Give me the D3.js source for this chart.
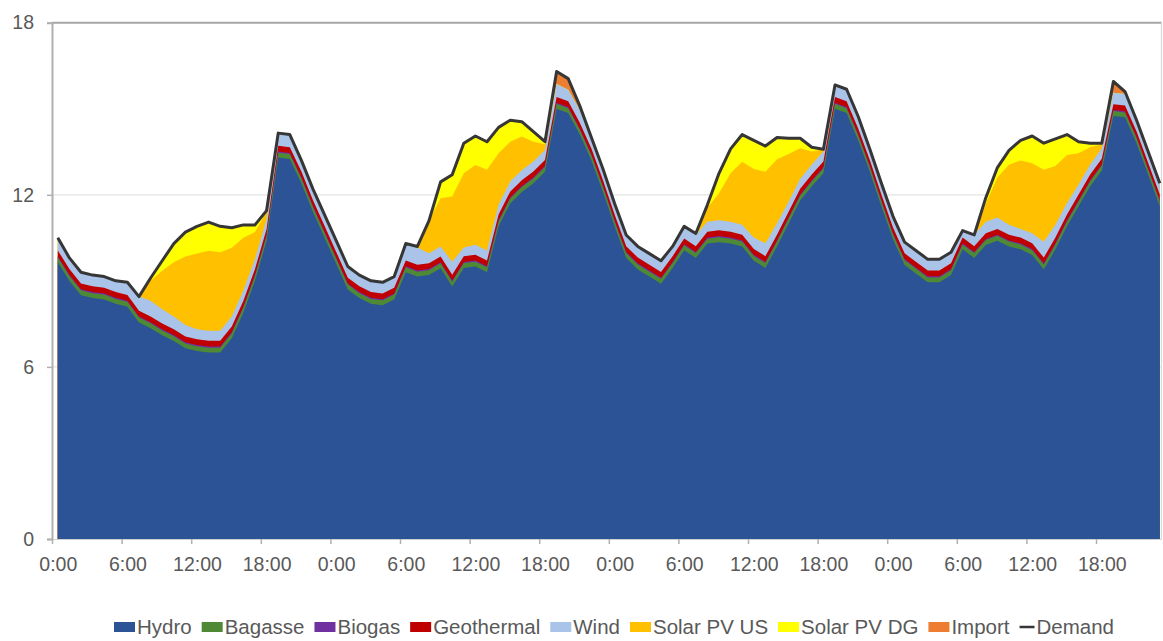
<!DOCTYPE html>
<html><head><meta charset="utf-8">
<script src="https://cdn.jsdelivr.net/npm/d3@7"></script>
<style>
body{margin:0;background:#fff;}
text{font-family:"Liberation Sans",Arial,sans-serif;fill:#595959;}
</style>
</head><body>
<svg id="c" width="1163" height="641"></svg>
<script>
// ---- data (hourly, 4 days) ----
const demand=[
10.5,9.8,9.3,9.2,9.15,9.0,8.95,8.45,9.1,9.7,10.3,10.7,10.9,11.05,10.9,10.85,10.95,10.95,11.45,14.15,14.1,13.2,12.2,11.3,
10.4,9.5,9.2,9.0,8.95,9.15,10.3,10.2,11.1,12.45,12.7,13.8,14.05,13.85,14.35,14.6,14.55,14.2,13.85,16.3,16.05,15.1,14.0,12.9,
11.7,10.6,10.2,9.95,9.7,10.2,10.9,10.65,11.65,12.75,13.6,14.1,13.9,13.7,14.0,13.97,13.97,13.66,13.59,15.83,15.68,14.73,13.6,12.4,
11.25,10.35,10.05,9.75,9.75,10.0,10.75,10.6,11.9,12.95,13.55,13.9,14.05,13.8,13.95,14.1,13.85,13.8,13.8,15.95,15.6,14.6,13.5,12.4];
const hydro=[
9.65,9.0,8.5,8.4,8.35,8.2,8.1,7.55,7.35,7.1,6.9,6.65,6.55,6.5,6.5,7.0,7.9,9.0,10.4,13.3,13.25,12.4,11.4,10.5,
9.6,8.7,8.4,8.2,8.15,8.35,9.3,9.15,9.2,9.44,8.8,9.45,9.5,9.3,10.9,11.7,12.1,12.4,12.8,15.0,14.85,14.1,13.2,12.1,
10.9,9.8,9.4,9.15,8.9,9.45,10.07,9.8,10.3,10.35,10.3,10.2,9.7,9.45,10.2,11.0,11.8,12.3,12.75,15.0,14.85,13.9,12.8,11.6,
10.45,9.55,9.25,8.95,8.95,9.2,10.1,9.8,10.25,10.4,10.2,10.1,9.9,9.4,10.1,10.9,11.6,12.3,12.85,14.75,14.7,13.8,12.7,11.6];
const bagasse=[
.17,.17,.17,.17,.17,.17,.17,.17,.17,.17,.17,.17,.17,.17,.17,.17,.17,.17,.17,.17,.17,.17,.17,.17,
.17,.17,.17,.17,.17,.17,.17,.17,.17,.17,.17,.17,.17,.17,.17,.17,.17,.17,.17,.17,.17,.17,.17,.17,
.17,.17,.17,.17,.17,.17,.17,.17,.17,.17,.17,.17,.17,.17,.17,.17,.17,.17,.17,.17,.17,.17,.17,.17,
.17,.17,.17,.17,.17,.17,.17,.17,.17,.17,.17,.17,.17,.17,.17,.17,.17,.17,.17,.17,.17,.17,.17,.17];
const biogas=[
.04,.04,.04,.04,.04,.04,.04,.04,.04,.04,.04,.04,.04,.04,.04,.04,.04,.04,.04,.04,.04,.04,.04,.04,
.04,.04,.04,.04,.04,.04,.04,.04,.04,.04,.04,.04,.04,.04,.04,.04,.04,.04,.04,.04,.04,.04,.04,.04,
.04,.04,.04,.04,.04,.04,.04,.04,.04,.04,.04,.04,.04,.04,.04,.04,.04,.04,.04,.04,.04,.04,.04,.04,
.04,.04,.04,.04,.04,.04,.04,.04,.04,.04,.04,.04,.04,.04,.04,.04,.04,.04,.04,.04,.04,.04,.04,.04];
const geothermal=[
.2,.2,.2,.2,.2,.2,.2,.2,.2,.2,.2,.2,.2,.2,.2,.2,.2,.2,.2,.2,.2,.2,.2,.2,
.2,.2,.2,.2,.2,.2,.2,.2,.2,.2,.2,.2,.2,.2,.2,.2,.2,.2,.2,.2,.2,.2,.2,.2,
.2,.2,.2,.2,.2,.2,.2,.2,.2,.2,.2,.2,.2,.2,.2,.2,.2,.2,.2,.2,.2,.2,.2,.2,
.2,.2,.2,.2,.2,.2,.2,.2,.2,.2,.2,.2,.2,.2,.2,.2,.2,.2,.2,.2,.2,.2,.2,.2];
const wind=[
.45,.4,.4,.4,.4,.4,.45,.5,.55,.5,.45,.4,.35,.35,.35,.35,.35,.35,.35,.45,.45,.4,.4,.4,
.4,.4,.4,.4,.4,.4,.55,.6,.35,.35,.46,.3,.35,.35,.35,.35,.35,.35,.35,.45,.4,.45,.4,.4,
.4,.4,.4,.4,.4,.35,.4,.4,.35,.35,.35,.35,.4,.45,.4,.35,.35,.35,.35,.4,.4,.4,.4,.4,
.4,.4,.4,.4,.4,.4,.25,.4,.4,.4,.35,.3,.35,.55,.45,.4,.35,.35,.35,.4,.4,.4,.4,.4];
const solarUS=[
0,0,0,0,0,0,0,0,.69,1.34,1.89,2.39,2.64,2.79,2.74,2.39,1.84,.94,.24,0,0,0,0,0,
0,0,0,0,0,0,0,.05,1.14,1.68,2.27,2.59,2.78,2.81,1.79,1.39,1.17,.69,.2,0,0,0,0,0,
0,0,0,0,0,0,0,.04,.49,.94,1.69,2.19,2.39,2.49,2.23,1.66,1.06,.45,.08,0,0,0,0,0,
0,0,0,0,0,0,0,0,.64,1.39,2.09,2.39,2.44,2.51,2.04,1.68,1.09,.6,.15,0,0,0,0,0];
const solarDG=[
0,0,0,0,0,0,0,0,.1,.35,.65,.85,.95,1.0,.9,.7,.45,.25,.05,0,0,0,0,0,
0,0,0,0,0,0,0,0,0,.57,.76,1.05,1.01,.98,.9,.75,.52,.35,.09,0,0,0,0,0,
0,0,0,0,0,0,0,0,.1,.7,.85,.95,1.0,.9,.76,.55,.35,.15,0,0,0,0,0,0,
0,0,0,0,0,0,0,0,.2,.35,.5,.7,.95,.93,.95,.71,.4,.14,.04,0,0,0,0,0];
const imports=[
0,0,0,0,0,0,0,0,0,0,0,0,0,0,0,0,0,0,0,0,0,0,0,0,
0,0,0,0,0,0,0,0,0,0,0,0,0,0,0,0,0,0,0,.45,.4,.1,0,0,
0,0,0,0,0,0,0,0,0,0,0,0,0,0,0,0,0,0,0,0,0,0,0,0,
0,0,0,0,0,0,0,0,0,0,0,0,0,0,0,0,0,0,0,.4,.1,0,0,0];

const seriesNames=["Hydro","Bagasse","Biogas","Geothermal","Wind","Solar PV US","Solar PV DG","Import"];
const seriesValues=[hydro,bagasse,biogas,geothermal,wind,solarUS,solarDG,imports];
const seriesColors=["#2b5395","#4e8a35","#7030a0","#c00000","#a9c4e8","#ffc000","#ffff00","#ed7d31"];
const xTickLabels=["0:00","6:00","12:00","18:00","0:00","6:00","12:00","18:00","0:00","6:00","12:00","18:00","0:00","6:00","12:00","18:00"];
const yTickValues=[0,6,12,18];

// ---- layout ----
const svg=d3.select("#c");
const pLeft=52, pRight=1165.6, pTop=22.7, pBottom=539, pEdge=1161.5;
const x=d3.scaleLinear().domain([-0.5,95.5]).range([pLeft,pRight]);
const y=d3.scaleLinear().domain([0,18]).range([pBottom,pTop]);

// gridlines
svg.append("g").selectAll("line").data(yTickValues.filter(v=>v>0)).join("line")
  .attr("x1",pLeft).attr("x2",pEdge).attr("y1",d=>y(d)).attr("y2",d=>y(d))
  .attr("stroke",d=>d===18?"#a6a6a6":"#e3e3e3").attr("stroke-width",d=>d===18?2:1.2);
svg.append("line").attr("x1",pEdge).attr("x2",pEdge).attr("y1",pTop).attr("y2",pBottom)
  .attr("stroke","#d9d9d9").attr("stroke-width",1.2);

// stacked areas
const rows=demand.map((d,i)=>{const r={i};seriesNames.forEach((n,k)=>r[n]=seriesValues[k][i]);return r;});
const stacked=d3.stack().keys(seriesNames)(rows);
const area=d3.area().x(d=>x(d.data.i)).y0(y(0)).y1(d=>y(d[1]));
const layers=svg.append("g");
for(let k=stacked.length-1;k>=0;k--){
  layers.append("path").datum(stacked[k]).attr("fill",seriesColors[k]).attr("d",area);
}

// demand line
const line=d3.line().x((d,i)=>x(i)).y(d=>y(d));
svg.append("path").datum(demand).attr("fill","none").attr("stroke","#363636")
  .attr("stroke-width",3).attr("stroke-linejoin","round").attr("d",line);

// y axis
const yAxis=svg.append("g").attr("transform",`translate(${pLeft},0)`)
  .call(d3.axisLeft(y).tickValues(yTickValues).tickSize(5).tickPadding(13).tickFormat(d3.format("d")));
yAxis.select(".domain").attr("stroke","#b0b0b0").attr("stroke-width",2);
yAxis.selectAll(".tick line").attr("stroke","#b0b0b0").attr("stroke-width",1.5);
yAxis.selectAll("text").attr("font-size","19.5px").attr("fill","#595959").attr("font-family","Liberation Sans, Arial, sans-serif");

// x axis ticks (category boundaries)
const xAxisTicks=svg.append("g").attr("transform",`translate(0,${pBottom})`)
  .call(d3.axisBottom(x).tickValues(d3.range(-0.5,96,6)).tickSize(5).tickFormat(""));
xAxisTicks.select(".domain").attr("stroke","#cfcfcf").attr("stroke-width",1.2).attr("d",`M${pLeft},0.5H${pEdge}`);
xAxisTicks.selectAll(".tick line").attr("stroke","#b0b0b0").attr("stroke-width",1.5);
// x labels at category centers
const xAxisLabels=svg.append("g").attr("transform",`translate(0,${pBottom})`)
  .call(d3.axisBottom(x).tickValues(d3.range(0,96,6)).tickSize(0).tickPadding(18)
    .tickFormat((d,i)=>xTickLabels[i]));
xAxisLabels.select(".domain").remove();
xAxisLabels.selectAll("text").attr("font-size","19.5px").attr("fill","#595959").attr("font-family","Liberation Sans, Arial, sans-serif");

// legend
const legend=svg.append("g").attr("font-size","20.5px");
let lx=114;
const legendItems=seriesNames.map((n,k)=>({name:n,color:seriesColors[k],type:"rect"}))
  .concat([{name:"Demand",color:"#363636",type:"line"}]);
legendItems.forEach(it=>{
  if(it.type==="rect"){
    legend.append("rect").attr("x",lx).attr("y",622).attr("width",21).attr("height",10).attr("fill",it.color);
    lx+=23;
  } else {
    legend.append("line").attr("x1",lx).attr("x2",lx+15).attr("y1",627).attr("y2",627)
      .attr("stroke",it.color).attr("stroke-width",2.5);
    lx+=17;
  }
  const t=legend.append("text").attr("x",lx).attr("y",633.5).text(it.name);
  lx+=t.node().getComputedTextLength()+10;
});
</script>
</body></html>
